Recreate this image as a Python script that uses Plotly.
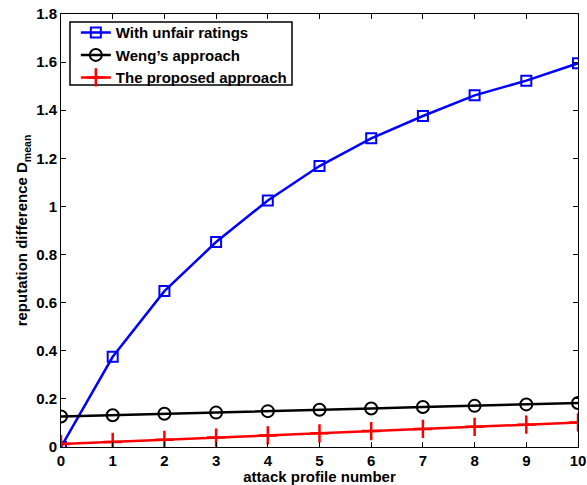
import plotly.graph_objects as go

x_vals = list(range(11))
unfair = [0.0, 0.375, 0.648, 0.852, 1.025, 1.168, 1.283, 1.376, 1.462, 1.523, 1.595]
weng = [0.127, 0.132, 0.138, 0.143, 0.149, 0.155, 0.160, 0.166, 0.171, 0.177, 0.183]
proposed = [0.012, 0.021, 0.030, 0.039, 0.048, 0.057, 0.066, 0.075, 0.084, 0.093, 0.102]

names = ["With unfair ratings", "Weng\u2019s approach", "The proposed approach"]

FONT = "Liberation Sans, Arial, sans-serif"

fig = go.Figure()
fig.add_trace(go.Scatter(x=x_vals, y=unfair, mode="lines+markers", name=names[0],
                         line=dict(color="#0000ff", width=2.5),
                         marker=dict(symbol="square-open", size=10, color="#0000ff",
                                     line=dict(width=2, color="#0000ff"))))
fig.add_trace(go.Scatter(x=x_vals, y=weng, mode="lines+markers", name=names[1],
                         line=dict(color="black", width=2.5),
                         marker=dict(symbol="circle-open", size=12, color="black",
                                     line=dict(width=2, color="black"))))
fig.add_trace(go.Scatter(x=x_vals, y=proposed, mode="lines+markers", name=names[2],
                         line=dict(color="#ff0000", width=2.5),
                         marker=dict(symbol="cross-thin-open", size=13, color="#ff0000",
                                     line=dict(width=2.5, color="#ff0000"))))

axis_common = dict(showline=True, linecolor="black", linewidth=1, mirror="ticks",
                   ticks="inside", ticklen=5, tickcolor="black", showgrid=False,
                   zeroline=False, ticklabeloverflow="allow",
                   tickfont=dict(family=FONT, size=15, color="black", weight="bold"))

# legend frame drawn as a paper-coordinate rectangle
fig.add_shape(type="rect", xref="paper", yref="paper",
              x0=0.0174, x1=0.4468, y0=0.836, y1=0.9815,
              line=dict(color="black", width=1.5), fillcolor="white", layer="above")

fig.update_layout(
    width=587, height=485,
    margin=dict(l=61, r=9, t=14, b=38, autoexpand=False),
    plot_bgcolor="white", paper_bgcolor="white",
    font=dict(family=FONT, color="black"),
    xaxis=dict(range=[0, 10], dtick=1, tick0=0,
               title=dict(text="attack profile number", standoff=0,
                          font=dict(family=FONT, size=15, color="black", weight="bold")),
               **axis_common),
    yaxis=dict(range=[0, 1.8], dtick=0.2, tick0=0,
               title=dict(text="reputation difference D<sub>mean</sub>", standoff=4,
                          font=dict(family=FONT, size=15, color="black", weight="bold")),
               **axis_common),
    legend=dict(x=0.0287, y=0.995, xanchor="left", yanchor="top",
                bgcolor="rgba(0,0,0,0)", borderwidth=0,
                font=dict(family=FONT, size=15, color="black", weight="bold"),
                tracegroupgap=0, itemwidth=30),
    showlegend=True,
)

fig.write_html("out.html", config={"displayModeBar": False},
               post_script="document.body.style.margin='0px';document.body.style.overflow='hidden';")
